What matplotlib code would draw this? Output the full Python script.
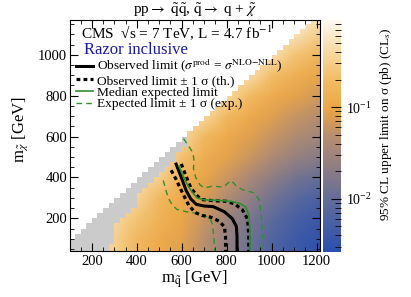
import numpy as np
import matplotlib
matplotlib.use('Agg')
import matplotlib.pyplot as plt
from matplotlib.colors import LinearSegmentedColormap, ListedColormap, LogNorm
from matplotlib.lines import Line2D
from matplotlib.ticker import MultipleLocator, LogLocator

plt.rcParams['font.family'] = 'serif'
plt.rcParams['font.serif'] = ['Liberation Serif', 'DejaVu Serif']
plt.rcParams['mathtext.fontset'] = 'stix'

# log10 of the 95% CL upper limit (pb)
msq_nodes = [100, 200, 300, 400, 500, 600, 700, 800, 900, 1000, 1100, 1225]
mchi_nodes = [25, 100, 200, 300, 400, 500, 600, 700, 800, 900, 1000, 1100, 1175]
log_limit = [
    [-0.35, -0.35, -0.50, -0.78, -0.95, -1.08, -1.32, -1.62, -1.95, -2.20, -2.40, -2.55],
    [-0.35, -0.35, -0.48, -0.75, -0.93, -1.06, -1.30, -1.60, -1.90, -2.17, -2.37, -2.52],
    [-0.35, -0.35, -0.40, -0.62, -0.85, -1.00, -1.22, -1.52, -1.80, -2.05, -2.25, -2.42],
    [-0.35, -0.35, -0.35, -0.45, -0.75, -0.95, -1.13, -1.38, -1.62, -1.88, -2.08, -2.25],
    [-0.35, -0.35, -0.35, -0.35, -0.50, -0.88, -1.02, -1.20, -1.42, -1.65, -1.85, -2.00],
    [-0.35, -0.35, -0.35, -0.35, -0.35, -0.65, -0.90, -1.05, -1.20, -1.40, -1.58, -1.72],
    [-0.35, -0.35, -0.35, -0.35, -0.35, -0.40, -0.75, -0.95, -1.08, -1.22, -1.38, -1.52],
    [-0.35, -0.35, -0.35, -0.35, -0.35, -0.35, -0.40, -0.75, -0.95, -1.08, -1.22, -1.35],
    [-0.33, -0.33, -0.33, -0.33, -0.33, -0.33, -0.33, -0.38, -0.72, -0.92, -1.05, -1.18],
    [-0.30, -0.30, -0.30, -0.30, -0.30, -0.30, -0.30, -0.30, -0.35, -0.68, -0.88, -1.02],
    [-0.28, -0.28, -0.28, -0.28, -0.28, -0.28, -0.28, -0.28, -0.28, -0.32, -0.62, -0.82],
    [-0.25, -0.25, -0.25, -0.25, -0.25, -0.25, -0.25, -0.25, -0.25, -0.25, -0.28, -0.55],
    [-0.22, -0.22, -0.22, -0.22, -0.22, -0.22, -0.22, -0.22, -0.22, -0.22, -0.22, -0.30],
]

# grey band (no result): first m_sq bin with a result, per m_chi row
gray_rows = [25, 50, 75, 100, 125, 150, 175, 200, 225, 250, 275, 300,
             325, 350, 375, 400, 425, 450, 475, 500, 525, 550, 575]
gray_edge = [275, 275, 300, 300, 300, 300, 325, 350, 375, 400, 400, 400,
             425, 450, 475, 500, 525, 550, 575, 575, 600, 625, 625]

# contours (m_sq, m_chi)
obs_x = [575, 598, 620, 640, 665, 700, 740, 790, 825, 843, 846, 846]
obs_y = [465, 400, 335, 295, 268, 260, 257, 232, 198, 160, 110, 40]
obs_m_x = [553, 575, 592, 612, 632, 660, 690, 730, 768, 790, 795, 795]
obs_m_y = [435, 390, 350, 305, 262, 228, 214, 205, 185, 158, 110, 40]
obs_p_x = [598, 618, 640, 665, 685, 740, 800, 835, 870, 893, 898, 898]
obs_p_y = [466, 410, 350, 315, 292, 286, 283, 270, 242, 195, 120, 40]
exp_x = [588, 605, 625, 645, 668, 700, 760, 820, 860, 885, 898, 903, 904]
exp_y = [455, 410, 365, 330, 300, 290, 288, 283, 272, 255, 220, 150, 40]
exp_m_x = [518, 530, 542, 560, 580, 620, 660, 695, 725, 735, 742, 747]
exp_m_y = [385, 335, 295, 262, 243, 232, 225, 218, 200, 175, 120, 40]
exp_p_x = [608, 630, 650, 655, 652, 662, 680, 700, 740, 785, 805, 820, 845, 870, 920, 945, 953, 958, 963]
exp_p_y = [590, 555, 520, 480, 445, 400, 365, 348, 358, 352, 372, 385, 355, 340, 325, 290, 220, 150, 40]

cmap = LinearSegmentedColormap.from_list('razor', [
    (0.00, '#2a4fae'), (0.20, '#5c6a9c'), (0.35, '#8a7c86'), (0.50, '#b88e6e'),
    (0.62, '#eca646'), (0.74, '#f2bb64'), (0.87, '#f7daa4'), (1.00, '#fdf9f0')])

fig = plt.figure(figsize=(4.11, 2.97), dpi=100)
ax = fig.add_axes([70/411, 1-251/297, 250/411, 231/297])
cax = fig.add_axes([323/411, 1-252/297, 18/411, 232/297])

lim = 10**np.array(log_limit)
mesh = ax.pcolormesh(msq_nodes, mchi_nodes, lim, shading='gouraud', cmap=cmap,
                     norm=LogNorm(vmin=10**-2.58, vmax=10**-0.05))

# white above the diagonal, grey where no limit was computed
x_edges = np.arange(100, 1226, 25)
y_edges = np.arange(25, 1176, 25)
gmap = dict(zip(gray_rows, gray_edge))
state = np.ma.masked_all((len(y_edges)-1, len(x_edges)-1))
for i, b in enumerate(y_edges[:-1]):
    for j, a in enumerate(x_edges[:-1]):
        if b >= a:
            state[i, j] = 1
        elif b in gmap and a < gmap[b]:
            state[i, j] = 0
ax.pcolormesh(x_edges, y_edges, state, cmap=ListedColormap(['#cbcbcb', 'white']),
              vmin=0, vmax=1, antialiased=False, linewidth=0)

green = '#2f8f2f'
ax.plot(exp_p_x, exp_p_y, color=green, lw=1.0, ls=(0, (4, 3)))
ax.plot(exp_m_x, exp_m_y, color=green, lw=1.0, ls=(0, (4, 3)))
ax.plot(obs_p_x, obs_p_y, color='black', lw=2.3, ls=(0, (1.2, 1.0)))
ax.plot(obs_m_x, obs_m_y, color='black', lw=2.3, ls=(0, (1.2, 1.0)))
ax.plot(obs_x, obs_y, color='black', lw=2.2)
ax.plot(exp_x, exp_y, color=green, lw=1.2)

ax.set_xlim(103, 1215)
ax.set_ylim(40, 1170)
ax.xaxis.set_major_locator(MultipleLocator(200))
ax.xaxis.set_minor_locator(MultipleLocator(50))
ax.yaxis.set_major_locator(MultipleLocator(200))
ax.yaxis.set_minor_locator(MultipleLocator(50))
ax.tick_params(which='both', direction='in', top=True, right=True, labelsize=10.5)
ax.tick_params(which='major', length=6)
ax.tick_params(which='minor', length=3)
ax.tick_params(axis='y', pad=2)
ax.tick_params(axis='x', pad=3)

cb = fig.colorbar(mesh, cax=cax)
cb.outline.set_visible(False)
cax.yaxis.set_major_locator(LogLocator(base=10))
cax.yaxis.set_minor_locator(LogLocator(base=10, subs=np.arange(2, 10)))
cax.tick_params(which='both', direction='in', right=True, left=False, labelsize=10)
cax.tick_params(which='major', length=7)
cax.tick_params(which='minor', length=4)

fig.text(195/411, 1-10/297, r"pp$\rightarrow$ $\tilde{\rm q}\tilde{\rm q}$, $\tilde{\rm q}\rightarrow$ q + $\tilde{\chi}$",
         ha='center', va='center', fontsize=11)
fig.text(195/411, 1-279/297, r"m$_{\tilde{\rm q}}$ [GeV]", ha='center', va='center', fontsize=12)
fig.text(20/411, 1-130/297, r"m$_{\tilde{\chi}}$ [GeV]", ha='center', va='center', fontsize=12, rotation=90)
fig.text(386/411, 1-124/297, r"95% CL upper limit on σ (pb) (CL$_{\rm s}$)",
         ha='center', va='center', fontsize=9.5, rotation=90)
fig.text(81/411, 1-33/297, r"CMS  √s = 7 TeV, L = 4.7 fb$^{-1}$", ha='left', va='center', fontsize=11)
fig.text(84/411, 1-50/297, "Razor inclusive", ha='left', va='center', fontsize=12, color='#1a1aa8')

handles = [Line2D([], [], color='black', lw=2.2),
           Line2D([], [], color='black', lw=2.3, ls=(0, (1.2, 1.0))),
           Line2D([], [], color=green, lw=1.2),
           Line2D([], [], color=green, lw=1.0, ls=(0, (4, 3)))]
labels = [r"Observed limit ($\sigma^{\rm prod}$ = $\sigma^{\rm NLO\!-\!NLL}$)",
          "Observed limit ± 1 σ (th.)",
          "Median expected limit",
          "Expected limit ± 1 σ (exp.)"]
ax.legend(handles, labels, loc='upper left', bbox_to_anchor=(76/411, 1-57/297),
          bbox_transform=fig.transFigure, frameon=False, fontsize=9.6,
          handlelength=1.25, handletextpad=0.3, labelspacing=-0.05, borderpad=0, borderaxespad=0)

fig.savefig('out.png', dpi=100)
